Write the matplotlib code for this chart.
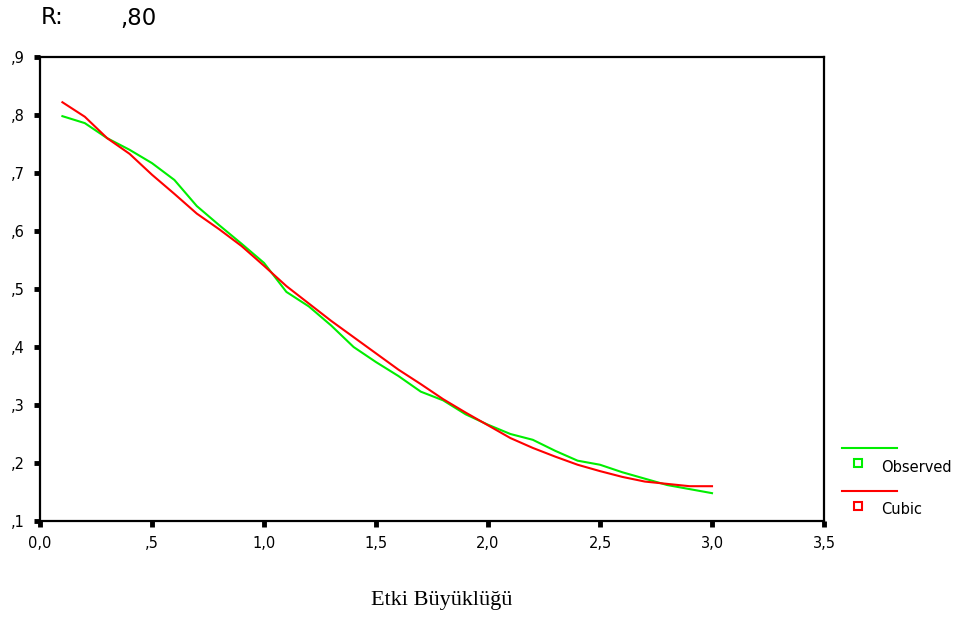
import matplotlib
matplotlib.use("Agg")
import matplotlib.pyplot as plt
from matplotlib.lines import Line2D

# effect size values
x = [0.1, 0.2, 0.3, 0.4, 0.5, 0.6, 0.7, 0.8, 0.9, 1.0,
     1.1, 1.2, 1.3, 1.4, 1.5, 1.6, 1.7, 1.8, 1.9, 2.0,
     2.1, 2.2, 2.3, 2.4, 2.5, 2.6, 2.7, 2.8, 2.9, 3.0]

observed = [0.798, 0.786, 0.760, 0.740, 0.717, 0.688, 0.643, 0.610, 0.578, 0.545,
            0.495, 0.470, 0.437, 0.400, 0.374, 0.350, 0.323, 0.308, 0.284, 0.266,
            0.250, 0.240, 0.221, 0.204, 0.197, 0.184, 0.173, 0.162, 0.155, 0.148]

cubic = [0.822, 0.797, 0.760, 0.733, 0.697, 0.664, 0.630, 0.603, 0.574, 0.540,
         0.505, 0.475, 0.445, 0.417, 0.389, 0.361, 0.336, 0.310, 0.287, 0.265,
         0.243, 0.226, 0.211, 0.197, 0.186, 0.176, 0.168, 0.164, 0.160, 0.160]

xticks = [0.0, 0.5, 1.0, 1.5, 2.0, 2.5, 3.0, 3.5]
xticklabels = ["0,0", ",5", "1,0", "1,5", "2,0", "2,5", "3,0", "3,5"]
yticks = [0.1, 0.2, 0.3, 0.4, 0.5, 0.6, 0.7, 0.8, 0.9]
yticklabels = [",1", ",2", ",3", ",4", ",5", ",6", ",7", ",8", ",9"]

GREEN = "#00ee00"
RED = "#ff0000"

fig = plt.figure(figsize=(9.58, 6.21), dpi=100)
ax = fig.add_axes([40 / 958, 100 / 621, 784 / 958, 464 / 621])

ax.plot(x, observed, color=GREEN, lw=1.5)
ax.plot(x, cubic, color=RED, lw=1.5)

ax.set_xlim(0, 3.5)
ax.set_ylim(0.1, 0.9)
ax.set_xticks(xticks)
ax.set_xticklabels(xticklabels)
ax.set_yticks(yticks)
ax.set_yticklabels(yticklabels)
ax.tick_params(direction="out", length=4, width=3.5, labelsize=10.5, pad=7)
for s in ax.spines.values():
    s.set_linewidth(1.6)

fig.text(41 / 958, 1 - 18 / 621, "R:", fontsize=16.5, va="center", ha="left")
fig.text(120 / 958, 1 - 18 / 621, ",80", fontsize=16.5, va="center", ha="left")

fig.text(442 / 958, 1 - 600 / 621, "Etki Büyüklüğü", fontsize=16,
         family="Liberation Serif", ha="center", va="center")

# legend outside right, SPSS style
tf = fig.transFigure
items = [("Observed", GREEN, 448), ("Cubic", RED, 491)]
for name, col, ly in items:
    fig.add_artist(Line2D([842 / 958, 897 / 958], [1 - ly / 621] * 2,
                          color=col, lw=1.5, transform=tf))
    fig.add_artist(Line2D([858 / 958], [1 - (ly + 15) / 621], marker="s",
                          markersize=6, markerfacecolor="white",
                          markeredgecolor=col, markeredgewidth=1.5,
                          linestyle="none", transform=tf))
    fig.text(881 / 958, 1 - (ly + 19) / 621, name, fontsize=10.5,
             ha="left", va="center")

plt.savefig("out.png", dpi=100)
